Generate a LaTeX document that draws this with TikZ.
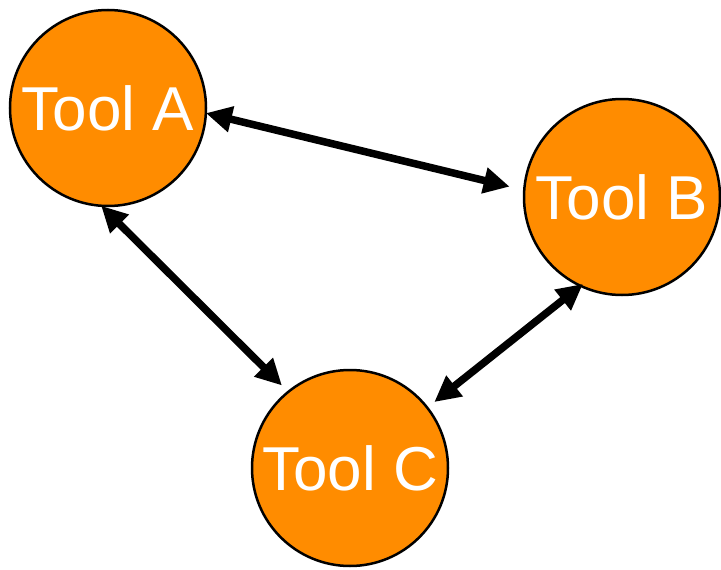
\documentclass[tikz,border=0pt]{standalone}
\usepackage{fontspec}
\setmainfont{Liberation Sans}
\usetikzlibrary{arrows.meta}
\definecolor{toolorange}{HTML}{FF8C00}

\begin{document}
\begin{tikzpicture}[x=1pt,y=-1pt,
    tool/.style={circle, draw=black, line width=2.5pt, fill=toolorange, outer sep=0pt,
      minimum size=196pt, inner sep=0pt, text=white, font=\fontsize{62}{64}\selectfont},
    link/.style={line width=7.5pt, {Triangle[length=26pt,width=25pt]}-{Triangle[length=26pt,width=25pt]}}]
            \useasboundingbox (0,0) rectangle (721,570); %fixing margins

            % the three tools
            \node[tool] (toolA) at (108,108) {Tool A};
            \node[tool] (toolB) at (622,197) {Tool B};
            \node[tool] (toolC) at (350,468) {Tool C};

            % double arrows between them
            \draw[link, shorten >=15pt] (toolA.-3.5) -- (toolB.176);
            \draw[link, shorten >=9pt] (toolA.266.5) -- (toolC.129.3);
            \draw[link, shorten <=-3pt, shorten >=9pt] (toolB.245.9) -- (toolC.38.6);

          \end{tikzpicture}
\end{document}
